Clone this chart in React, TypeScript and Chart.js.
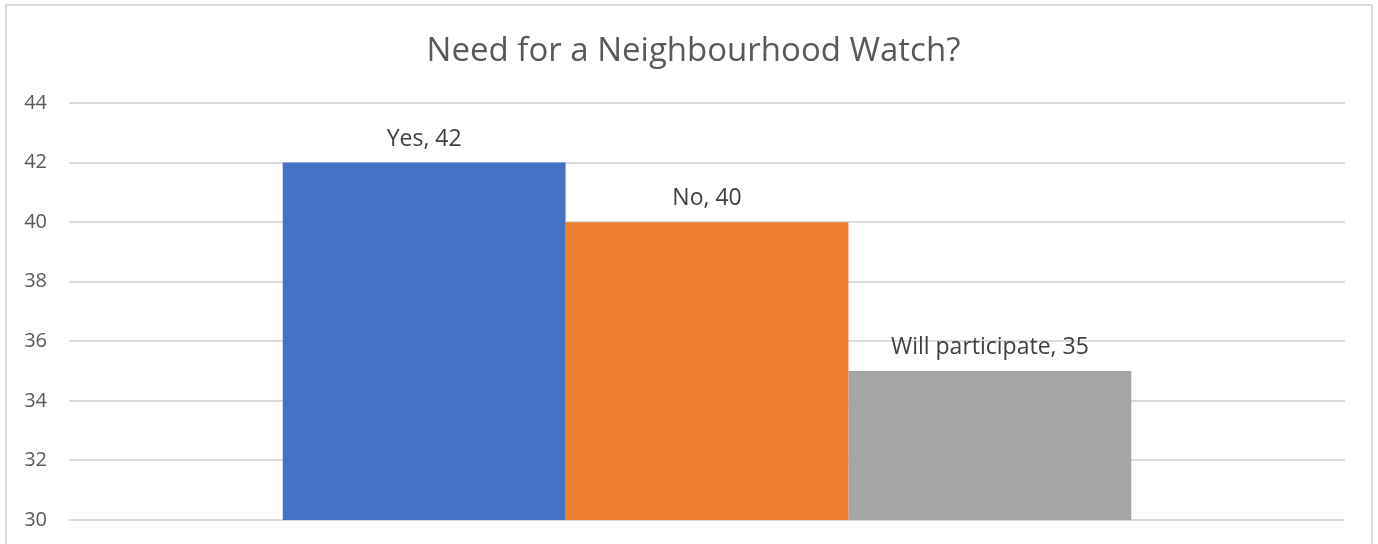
import React, { useEffect, useRef } from "react";
import { Chart, registerables } from "chart.js";

Chart.register(...registerables);

const TITLE = "Need for a Neighbourhood Watch?";
const categories = ["Yes", "No", "Will participate"];
const values = [42, 40, 35];
const colors = ["#4472C4", "#ED7D31", "#A5A5A5"];
const yMin = 30;
const yMax = 44;
const yStep = 2;

const FONT = "'Open Sans', sans-serif";

const barLabelPlugin = {
  id: "barLabels",
  afterDatasetsDraw(chart: any) {
    const ctx = chart.ctx;
    ctx.save();
    ctx.font = `23px ${FONT}`;
    ctx.fillStyle = "#404040";
    ctx.textAlign = "center";
    ctx.textBaseline = "alphabetic";
    chart.data.datasets.forEach((ds: any, i: number) => {
      const meta = chart.getDatasetMeta(i);
      const el = meta.data[0];
      if (!el) return;
      ctx.fillText(`${ds.label}, ${ds.data[0]}`, el.x, el.y - 17);
    });
    ctx.restore();
  },
};

const titlePlugin = {
  id: "centeredTitle",
  afterDraw(chart: any) {
    const ctx = chart.ctx;
    ctx.save();
    ctx.font = `33px ${FONT}`;
    ctx.fillStyle = "#595959";
    ctx.textAlign = "center";
    ctx.textBaseline = "alphabetic";
    ctx.fillText(TITLE, 693.5, 61);
    ctx.restore();
  },
};

export default function App() {
  const ref = useRef<HTMLCanvasElement | null>(null);
  useEffect(() => {
    if (!ref.current) return;
    const chart = new Chart(ref.current, {
      type: "bar",
      data: {
        labels: [""],
        datasets: categories.map((c, i) => ({
          label: c,
          data: [values[i]],
          backgroundColor: colors[i],
          borderWidth: 0,
          categoryPercentage: 0.665,
          barPercentage: 1,
        })),
      },
      options: {
        responsive: false,
        animation: false,
        layout: { padding: { top: 103, left: 0, right: 33, bottom: 0 } },
        plugins: {
          legend: { display: false },
          tooltip: { enabled: false },
          title: { display: false },
        },
        scales: {
          x: { display: false },
          y: {
            min: yMin,
            max: yMax,
            afterFit(scale: any) {
              scale.width = 69;
            },
            ticks: {
              stepSize: yStep,
              color: "#595959",
              padding: 22,
              font: { family: FONT, size: 20 },
            },
            border: { display: false },
            grid: { color: "#dcdcdc", lineWidth: 2, drawTicks: false },
          },
        },
      },
      plugins: [barLabelPlugin, titlePlugin],
    });
    return () => chart.destroy();
  }, []);
  return (
    <div style={{ position: "fixed", left: 0, top: 0, width: 1378, height: 544, background: "#fff", overflow: "hidden" }}>
      <div
        style={{
          position: "absolute",
          left: 5,
          top: 4,
          width: 1368,
          height: 620,
          border: "2px solid #dadada",
          boxSizing: "border-box",
        }}
      />
      <canvas ref={ref} width={1378} height={554} style={{ position: "absolute", left: 0, top: 0 }} />
    </div>
  );
}
